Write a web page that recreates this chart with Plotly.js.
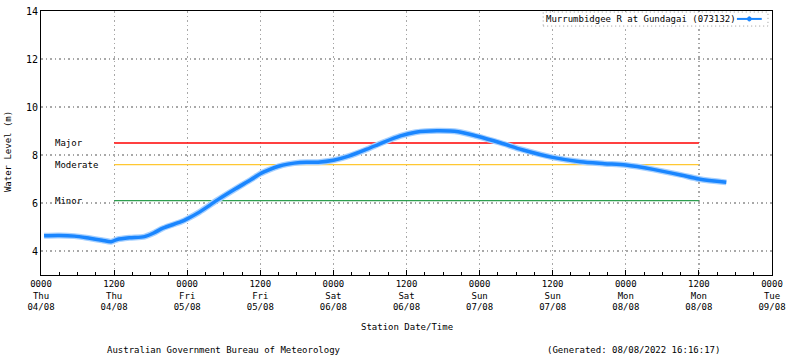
<!DOCTYPE html>
<html>
<head>
<meta charset="utf-8">
<script src="https://cdn.plot.ly/plotly-3.0.1.min.js"></script>
<style>html,body{margin:0;padding:0;background:#fff;}#chart{width:800px;height:358px;}</style>
</head>
<body>
<div id="chart"></div>
<script>
// ---- data ----
const seriesName = "Murrumbidgee R at Gundagai (073132)";
const times = [
  "2022-08-04 00:30","2022-08-04 03:00","2022-08-04 05:30","2022-08-04 08:00","2022-08-04 10:00",
  "2022-08-04 11:30","2022-08-04 12:30","2022-08-04 14:30","2022-08-04 17:00","2022-08-04 18:30",
  "2022-08-04 20:00","2022-08-04 23:00","2022-08-05 00:00","2022-08-05 02:00","2022-08-05 05:00",
  "2022-08-05 08:00","2022-08-05 10:30","2022-08-05 12:00","2022-08-05 13:30","2022-08-05 15:00",
  "2022-08-05 16:30","2022-08-05 18:30","2022-08-05 21:30","2022-08-06 00:00","2022-08-06 02:30",
  "2022-08-06 05:30","2022-08-06 08:00","2022-08-06 11:00","2022-08-06 13:30","2022-08-06 17:00",
  "2022-08-06 20:30","2022-08-06 23:30","2022-08-07 03:30","2022-08-07 07:00","2022-08-07 12:00",
  "2022-08-07 16:30","2022-08-07 20:30","2022-08-08 00:00","2022-08-08 04:30","2022-08-08 09:00",
  "2022-08-08 12:00","2022-08-08 16:30"
];
const levels = [
  4.64,4.65,4.62,4.53,4.45,
  4.39,4.48,4.55,4.60,4.75,
  4.95,5.22,5.34,5.62,6.13,
  6.60,6.98,7.22,7.39,7.53,
  7.62,7.69,7.70,7.78,7.95,
  8.24,8.51,8.80,8.95,9.01,
  8.97,8.79,8.50,8.22,7.90,
  7.72,7.64,7.58,7.40,7.17,
  7.00,6.86
];
const floodNames = ["Major","Moderate","Minor"];
const floodLevels = [8.5, 7.6, 6.1];
const floodColors = ["#ff0000","#ffc832","#2e9e4f"];
const floodStart = "2022-08-04 12:00";
const floodEnd = "2022-08-08 12:00";
const tickVals = ["2022-08-04 00:00","2022-08-04 12:00","2022-08-05 00:00","2022-08-05 12:00","2022-08-06 00:00",
  "2022-08-06 12:00","2022-08-07 00:00","2022-08-07 12:00","2022-08-08 00:00","2022-08-08 12:00","2022-08-09 00:00"];
const tickTexts = ["0000<br>Thu<br>04/08","1200<br>Thu<br>04/08","0000<br>Fri<br>05/08","1200<br>Fri<br>05/08",
  "0000<br>Sat<br>06/08","1200<br>Sat<br>06/08","0000<br>Sun<br>07/08","1200<br>Sun<br>07/08",
  "0000<br>Mon<br>08/08","1200<br>Mon<br>08/08","0000<br>Tue<br>09/08"];
const yTicks = [4,6,8,10,12,14];
const labelTime = "2022-08-04 02:00";

const FONT = "DejaVu Sans Mono, monospace";
const traces = [];
floodLevels.forEach((lv, i) => {
  traces.push({x:[floodStart, floodEnd], y:[lv, lv], mode:"lines", type:"scatter",
    line:{color:floodColors[i], width:1.3}, hoverinfo:"skip", showlegend:false});
});
traces.push({x:times, y:levels, mode:"lines", type:"scatter", name:seriesName,
  line:{color:"#a6d0ff", width:6, shape:"spline", smoothing:0.8}, showlegend:false, hoverinfo:"skip"});
traces.push({x:times, y:levels, mode:"lines", type:"scatter", name:seriesName,
  line:{color:"#1a86ff", width:3.5, shape:"spline", smoothing:0.8}, showlegend:false});

const annotations = floodNames.map((n, i) => ({
  x:labelTime, y:floodLevels[i], xref:"x", yref:"y", text:n, showarrow:false,
  xanchor:"left", yanchor:"middle", font:{family:FONT, size:9, color:"#000"}
}));
annotations.push(
  {x:-0.045, y:0.466, xref:"paper", yref:"paper", text:"Water Level (m)", textangle:-90, showarrow:false,
   xanchor:"center", yanchor:"middle", font:{family:FONT, size:9, color:"#000"}},
  {x:0.5, y:-0.197, xref:"paper", yref:"paper", text:"Station Date/Time", showarrow:false,
   xanchor:"center", yanchor:"middle", font:{family:FONT, size:9, color:"#000"}},
  {x:0.25, y:-0.284, xref:"paper", yref:"paper", text:"Australian Government Bureau of Meteorology", showarrow:false,
   xanchor:"center", yanchor:"middle", font:{family:FONT, size:9, color:"#000"}},
  {x:0.811, y:-0.284, xref:"paper", yref:"paper", text:"(Generated: 08/08/2022 16:16:17)", showarrow:false,
   xanchor:"center", yanchor:"middle", font:{family:FONT, size:9, color:"#000"}},
  {x:0.688, y:0.970, xref:"paper", yref:"paper", text:seriesName, showarrow:false,
   xanchor:"left", yanchor:"middle", font:{family:FONT, size:9, color:"#000"}}
);

const shapes = [
  {type:"rect", xref:"paper", yref:"paper", x0:0.687, x1:0.9945, y0:0.943, y1:0.996,
   line:{color:"#999", width:1, dash:"1px,3px"}, fillcolor:"#ffffff", layer:"above"},
  {type:"line", xref:"paper", yref:"paper", x0:0.952, x1:0.986, y0:0.970, y1:0.970,
   line:{color:"#1a86ff", width:2}},
  {type:"circle", xref:"paper", yref:"paper", x0:0.9665, x1:0.9715, y0:0.962, y1:0.978,
   line:{color:"#1a86ff", width:1}, fillcolor:"#1a86ff"}
];

const layout = {
  width:800, height:358,
  margin:{l:41, r:28, t:11, b:83},
  paper_bgcolor:"#fff", plot_bgcolor:"#fff",
  font:{family:FONT, size:9, color:"#000"},
  showlegend:false,
  xaxis:{type:"date", range:["2022-08-04 00:00","2022-08-09 00:00"],
    tickmode:"array", tickvals:tickVals, ticktext:tickTexts,
    ticks:"inside", ticklen:5, tickcolor:"#000",
    minor:{dtick:3*3600*1000, ticks:"inside", ticklen:3, tickcolor:"#000", showgrid:false},
    showgrid:true, gridcolor:"#a8a8a8", griddash:"1.5px,3px", gridwidth:1.2,
    showline:true, linecolor:"#000", linewidth:1, mirror:true, zeroline:false,
    tickfont:{family:FONT, size:9, color:"#000"}},
  yaxis:{range:[3,14], tickmode:"array", tickvals:yTicks,
    ticks:"inside", ticklen:0, tickcolor:"#000",
    showgrid:true, gridcolor:"#a8a8a8", griddash:"1.5px,3px", gridwidth:1.2,
    showline:true, linecolor:"#000", linewidth:1, mirror:true, zeroline:false,
    tickfont:{family:FONT, size:10, color:"#000"}},
  annotations:annotations,
  shapes:shapes
};
Plotly.newPlot("chart", traces, layout, {staticPlot:true, displayModeBar:false});
</script>
</body>
</html>
